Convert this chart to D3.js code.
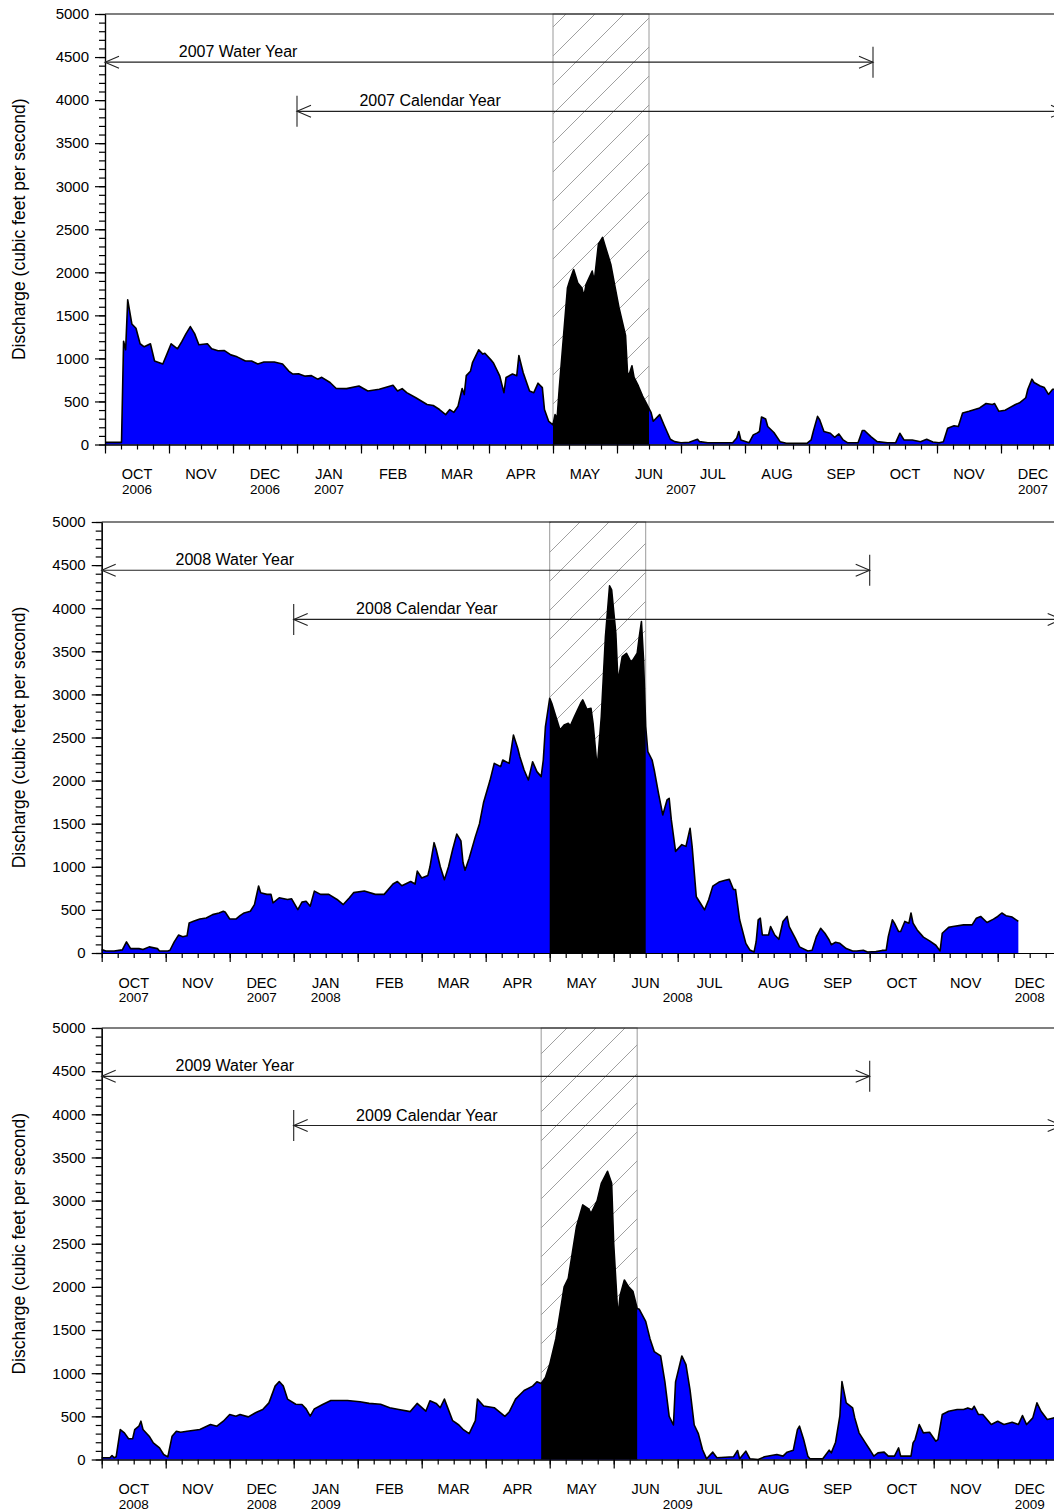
<!DOCTYPE html>
<html lang="en">
<head>
<meta charset="UTF-8">
<script src="https://d3js.org/d3.v7.min.js"></script>
<style>
    body { margin: 0; background: #fff; }
    svg { display: block; font-family: "Liberation Sans", Arial, sans-serif; }
</style>
</head>
<body>
<div id="chart"></div>
<script>
// month labels along each water-year axis (Oct .. Dec of following year)
const monthNames = ["OCT","NOV","DEC","JAN","FEB","MAR","APR","MAY","JUN","JUL","AUG","SEP","OCT","NOV","DEC"];
const yearTickMonths = [0.5, 2.5, 3.5, 9, 14.5];

// daily discharge, cubic feet per second
const flow2007 = [["2006-10-01",25],["2006-10-09",25],["2006-10-10",1200],["2006-10-11",1100],["2006-10-12",1680],["2006-10-14",1400],["2006-10-16",1350],["2006-10-18",1170],["2006-10-20",1135],["2006-10-23",1170],["2006-10-25",970],["2006-10-29",935],["2006-10-31",1050],["2006-11-02",1170],["2006-11-05",1112],["2006-11-07",1194],["2006-11-09",1288],["2006-11-11",1370],["2006-11-13",1288],["2006-11-15",1159],["2006-11-19",1170],["2006-11-21",1112],["2006-11-24",1088],["2006-11-27",1090],["2006-11-30",1041],["2006-12-03",1018],["2006-12-07",970],["2006-12-10",970],["2006-12-13",935],["2006-12-16",959],["2006-12-21",959],["2006-12-25",935],["2006-12-28",853],["2006-12-30",818],["2007-01-02",820],["2007-01-05",794],["2007-01-08",800],["2007-01-11",759],["2007-01-13",780],["2007-01-17",720],["2007-01-20",650],["2007-01-25",649],["2007-01-31",680],["2007-02-04",621],["2007-02-09",641],["2007-02-15",688],["2007-02-17",621],["2007-02-19",649],["2007-02-21",602],["2007-02-25",543],["2007-03-02",465],["2007-03-05",453],["2007-03-08",406],["2007-03-11",347],["2007-03-13",406],["2007-03-15",374],["2007-03-17",445],["2007-03-19",650],["2007-03-20",580],["2007-03-21",800],["2007-03-23",850],["2007-03-24",950],["2007-03-27",1100],["2007-03-29",1050],["2007-03-30",1060],["2007-04-02",980],["2007-04-03",950],["2007-04-05",850],["2007-04-06",798],["2007-04-08",602],["2007-04-09",779],["2007-04-12",818],["2007-04-14",798],["2007-04-15",1033],["2007-04-17",837],["2007-04-20",621],["2007-04-22",602],["2007-04-24",712],["2007-04-26",661],["2007-04-27",406],["2007-04-29",268],["2007-05-01",229],["2007-05-02",347],["2007-05-03",308],["2007-05-04",641],["2007-05-06",1229],["2007-05-08",1818],["2007-05-09",1896],["2007-05-11",2033],["2007-05-13",1876],["2007-05-15",1818],["2007-05-16",1720],["2007-05-17",1856],["2007-05-20",2014],["2007-05-21",1896],["2007-05-23",2327],["2007-05-25",2406],["2007-05-26",2327],["2007-05-29",2092],["2007-05-31",1837],["2007-06-02",1582],["2007-06-05",1268],["2007-06-06",798],["2007-06-07",837],["2007-06-08",915],["2007-06-09",779],["2007-06-11",680],["2007-06-13",562],["2007-06-15",465],["2007-06-17",370],["2007-06-18",270],["2007-06-21",347],["2007-06-23",229],["2007-06-26",61],["2007-06-28",33],["2007-07-01",21],["2007-07-05",25],["2007-07-09",61],["2007-07-10",33],["2007-07-14",20],["2007-07-26",20],["2007-07-28",76],["2007-07-29",151],["2007-07-30",53],["2007-08-03",21],["2007-08-05",112],["2007-08-07",135],["2007-08-08",151],["2007-08-09",320],["2007-08-11",296],["2007-08-12",209],["2007-08-15",139],["2007-08-18",33],["2007-08-21",14],["2007-08-31",14],["2007-09-02",53],["2007-09-03",151],["2007-09-05",327],["2007-09-06",288],["2007-09-08",151],["2007-09-11",131],["2007-09-13",84],["2007-09-15",123],["2007-09-17",53],["2007-09-19",21],["2007-09-24",21],["2007-09-26",163],["2007-09-27",163],["2007-09-30",92],["2007-10-03",33],["2007-10-08",21],["2007-10-12",21],["2007-10-14",131],["2007-10-16",53],["2007-10-20",53],["2007-10-24",33],["2007-10-27",61],["2007-10-30",29],["2007-11-02",21],["2007-11-04",33],["2007-11-06",190],["2007-11-09",218],["2007-11-11",209],["2007-11-13",367],["2007-11-16",386],["2007-11-21",425],["2007-11-24",476],["2007-11-27",465],["2007-11-28",476],["2007-11-30",386],["2007-12-03",398],["2007-12-05",425],["2007-12-08",465],["2007-12-10",484],["2007-12-13",543],["2007-12-14",641],["2007-12-16",759],["2007-12-17",720],["2007-12-20",680],["2007-12-22",661],["2007-12-24",582],["2007-12-26",641],["2007-12-31",640]];

const flow2008 = [["2007-10-01",40],["2007-10-03",24],["2007-10-07",24],["2007-10-11",36],["2007-10-13",129],["2007-10-15",51],["2007-10-19",51],["2007-10-21",40],["2007-10-24",71],["2007-10-28",51],["2007-10-29",24],["2007-11-02",24],["2007-11-03",32],["2007-11-05",129],["2007-11-07",208],["2007-11-09",188],["2007-11-11",200],["2007-11-12",348],["2007-11-14",367],["2007-11-17",394],["2007-11-20",406],["2007-11-23",445],["2007-11-26",465],["2007-11-28",484],["2007-11-29",472],["2007-12-01",394],["2007-12-04",394],["2007-12-06",433],["2007-12-08",465],["2007-12-11",484],["2007-12-13",562],["2007-12-15",777],["2007-12-16",699],["2007-12-19",680],["2007-12-21",680],["2007-12-22",582],["2007-12-25",641],["2007-12-29",621],["2007-12-31",629],["2008-01-03",504],["2008-01-05",590],["2008-01-07",601],["2008-01-09",543],["2008-01-11",718],["2008-01-14",680],["2008-01-18",680],["2008-01-22",621],["2008-01-25",562],["2008-01-28",641],["2008-01-30",700],["2008-02-04",720],["2008-02-09",680],["2008-02-13",680],["2008-02-17",800],["2008-02-19",830],["2008-02-21",780],["2008-02-25",830],["2008-02-27",800],["2008-02-28",950],["2008-03-01",870],["2008-03-04",900],["2008-03-05",1000],["2008-03-07",1280],["2008-03-08",1200],["2008-03-10",1000],["2008-03-12",850],["2008-03-14",1000],["2008-03-16",1200],["2008-03-18",1380],["2008-03-20",1300],["2008-03-21",1050],["2008-03-22",960],["2008-03-24",1100],["2008-03-27",1350],["2008-03-29",1500],["2008-03-31",1750],["2008-04-03",2000],["2008-04-05",2200],["2008-04-08",2162],["2008-04-09",2239],["2008-04-12",2200],["2008-04-14",2529],["2008-04-16",2375],["2008-04-17",2278],["2008-04-19",2123],["2008-04-21",2007],["2008-04-23",2219],["2008-04-25",2104],["2008-04-27",2046],["2008-04-28",2239],["2008-04-29",2626],["2008-05-01",2955],["2008-05-02",2897],["2008-05-04",2742],["2008-05-06",2587],["2008-05-08",2645],["2008-05-10",2665],["2008-05-11",2634],["2008-05-13",2742],["2008-05-16",2897],["2008-05-17",2936],["2008-05-19",2828],["2008-05-21",2839],["2008-05-22",2665],["2008-05-24",2143],["2008-05-26",2742],["2008-05-28",3671],["2008-05-30",4259],["2008-05-31",4212],["2008-06-02",3709],["2008-06-03",3148],["2008-06-05",3438],["2008-06-07",3477],["2008-06-09",3380],["2008-06-10",3400],["2008-06-12",3477],["2008-06-13",3671],["2008-06-14",3845],["2008-06-15",3400],["2008-06-16",2626],["2008-06-17",2336],["2008-06-19",2239],["2008-06-20",2123],["2008-06-22",1853],["2008-06-24",1602],["2008-06-26",1776],["2008-06-27",1795],["2008-06-28",1547],["2008-06-30",1179],["2008-07-03",1257],["2008-07-05",1237],["2008-07-07",1447],["2008-07-08",1234],["2008-07-10",653],["2008-07-12",577],["2008-07-14",500],["2008-07-16",618],["2008-07-18",776],["2008-07-21",823],["2008-07-24",843],["2008-07-26",854],["2008-07-28",737],["2008-07-29",737],["2008-07-31",385],["2008-08-03",112],["2008-08-05",34],["2008-08-07",12],["2008-08-08",131],["2008-08-09",385],["2008-08-10",404],["2008-08-11",209],["2008-08-14",209],["2008-08-15",307],["2008-08-17",209],["2008-08-19",159],["2008-08-21",366],["2008-08-23",424],["2008-08-24",307],["2008-08-27",170],["2008-08-29",71],["2008-09-02",24],["2008-09-04",32],["2008-09-06",190],["2008-09-08",287],["2008-09-10",229],["2008-09-12",151],["2008-09-13",96],["2008-09-15",124],["2008-09-17",112],["2008-09-20",51],["2008-09-23",24],["2008-09-25",24],["2008-09-28",32],["2008-09-30",12],["2008-10-04",16],["2008-10-07",30],["2008-10-09",32],["2008-10-10",190],["2008-10-12",385],["2008-10-13",346],["2008-10-15",249],["2008-10-16",249],["2008-10-18",366],["2008-10-20",346],["2008-10-21",464],["2008-10-22",346],["2008-10-24",268],["2008-10-27",184],["2008-10-30",141],["2008-11-02",90],["2008-11-04",24],["2008-11-05",229],["2008-11-08",297],["2008-11-10",307],["2008-11-15",326],["2008-11-19",326],["2008-11-21",404],["2008-11-23",424],["2008-11-26",354],["2008-11-29",393],["2008-12-01",424],["2008-12-03",464],["2008-12-05",433],["2008-12-08",417],["2008-12-11",366]];

const flow2009 = [["2008-10-01",20],["2008-10-05",20],["2008-10-06",46],["2008-10-07",20],["2008-10-08",31],["2008-10-10",347],["2008-10-12",309],["2008-10-14",240],["2008-10-16",240],["2008-10-17",347],["2008-10-19",386],["2008-10-20",444],["2008-10-21",347],["2008-10-24",270],["2008-10-26",193],["2008-10-29",135],["2008-10-31",58],["2008-11-02",31],["2008-11-04",270],["2008-11-06",328],["2008-11-08",316],["2008-11-11",328],["2008-11-17",347],["2008-11-22",405],["2008-11-25",386],["2008-11-28",444],["2008-12-01",521],["2008-12-04",502],["2008-12-06",521],["2008-12-10",494],["2008-12-14",548],["2008-12-17",579],["2008-12-20",656],["2008-12-21",720],["2008-12-23",850],["2008-12-25",903],["2008-12-27",850],["2008-12-29",700],["2009-01-02",640],["2009-01-05",637],["2009-01-07",587],["2009-01-09",502],["2009-01-11",587],["2009-01-15",637],["2009-01-19",683],["2009-01-27",683],["2009-02-02",670],["2009-02-06",650],["2009-02-11",640],["2009-02-15",600],["2009-02-19",580],["2009-02-24",555],["2009-02-27",650],["2009-03-03",560],["2009-03-05",680],["2009-03-08",650],["2009-03-10",600],["2009-03-12",700],["2009-03-16",450],["2009-03-19",400],["2009-03-21",350],["2009-03-24",300],["2009-03-27",450],["2009-03-28",700],["2009-03-31",620],["2009-04-05",600],["2009-04-10",500],["2009-04-12",550],["2009-04-15",700],["2009-04-19",800],["2009-04-23",850],["2009-04-25",900],["2009-04-27",880],["2009-04-29",950],["2009-05-01",1100],["2009-05-04",1400],["2009-05-06",1700],["2009-05-08",2000],["2009-05-10",2100],["2009-05-12",2400],["2009-05-14",2700],["2009-05-17",2950],["2009-05-20",2900],["2009-05-21",2850],["2009-05-24",3000],["2009-05-26",3200],["2009-05-29",3340],["2009-05-31",3200],["2009-06-01",2500],["2009-06-03",1650],["2009-06-04",1900],["2009-06-06",2080],["2009-06-08",2000],["2009-06-10",1950],["2009-06-12",1750],["2009-06-13",1740],["2009-06-16",1600],["2009-06-18",1400],["2009-06-20",1250],["2009-06-23",1200],["2009-06-25",900],["2009-06-27",500],["2009-06-29",400],["2009-06-30",900],["2009-07-03",1200],["2009-07-05",1100],["2009-07-07",800],["2009-07-09",400],["2009-07-11",300],["2009-07-13",116],["2009-07-15",8],["2009-07-18",85],["2009-07-20",20],["2009-07-28",31],["2009-07-30",104],["2009-07-31",8],["2009-08-03",96],["2009-08-05",8],["2009-08-09",0],["2009-08-12",31],["2009-08-18",58],["2009-08-21",39],["2009-08-23",85],["2009-08-26",108],["2009-08-28",347],["2009-08-29",386],["2009-08-31",231],["2009-09-02",39],["2009-09-03",8],["2009-09-09",8],["2009-09-12",108],["2009-09-13",77],["2009-09-15",200],["2009-09-17",502],["2009-09-18",903],["2009-09-20",656],["2009-09-23",598],["2009-09-24",482],["2009-09-26",309],["2009-09-29",193],["2009-10-01",116],["2009-10-03",39],["2009-10-05",77],["2009-10-08",85],["2009-10-10",39],["2009-10-13",39],["2009-10-15",135],["2009-10-16",39],["2009-10-21",39],["2009-10-22",193],["2009-10-23",231],["2009-10-25",405],["2009-10-27",309],["2009-10-30",316],["2009-11-02",212],["2009-11-03",231],["2009-11-05",521],["2009-11-08",559],["2009-11-12",579],["2009-11-15",579],["2009-11-17",598],["2009-11-19",579],["2009-11-20",617],["2009-11-22",521],["2009-11-24",521],["2009-11-28",405],["2009-12-01",444],["2009-12-04",405],["2009-12-08",432],["2009-12-11",405],["2009-12-13",509],["2009-12-15",405],["2009-12-18",482],["2009-12-20",656],["2009-12-22",559],["2009-12-25",463],["2009-12-28",482],["2009-12-31",500]];

// hatched high-flow periods
const shade2007 = ["2007-05-01", "2007-06-16"];
const shade2008 = ["2008-05-01", "2008-06-16"];
const shade2009 = ["2009-04-27", "2009-06-12"];

const years2007 = ["2006", "2006", "2007", "2007", "2007"];
const years2008 = ["2007", "2007", "2008", "2008", "2008"];
const years2009 = ["2008", "2008", "2009", "2009", "2009"];

const panels = [
    { start: 2006, flow: flow2007, shade: shade2007, years: years2007, wy: "2007 Water Year", cy: "2007 Calendar Year", left: 105, top: 14, bottom: 444.5 },
    { start: 2007, flow: flow2008, shade: shade2008, years: years2008, wy: "2008 Water Year", cy: "2008 Calendar Year", left: 101.7, top: 522, bottom: 953 },
    { start: 2008, flow: flow2009, shade: shade2009, years: years2009, wy: "2009 Water Year", cy: "2009 Calendar Year", left: 101.7, top: 1028, bottom: 1459.5 }
];

const width = 1054, height = 1511;
const monthW = 64;
const parse = d3.timeParse("%Y-%m-%d");

const svg = d3.select("#chart").append("svg")
    .attr("width", width)
    .attr("height", height);

const defs = svg.append("defs");
const hatch = defs.append("pattern")
    .attr("id", "hatch")
    .attr("patternUnits", "userSpaceOnUse")
    .attr("width", 29).attr("height", 29);
hatch.append("path")
    .attr("d", "M0,29 L29,0 M-7,7 L7,-7 M22,36 L36,22")
    .attr("stroke", "#a0a0a0")
    .attr("stroke-width", 1);

panels.forEach((p, i) => {
    // months since Oct 1 of the start year; each month gets equal width
    const monthPos = s => {
        const dt = parse(s);
        const dim = new Date(dt.getFullYear(), dt.getMonth() + 1, 0).getDate();
        return (dt.getFullYear() - p.start) * 12 + dt.getMonth() - 9 + (dt.getDate() - 1) / dim;
    };

    const x = d3.scaleLinear().domain([0, 15]).range([p.left, p.left + 15 * monthW]);
    const y = d3.scaleLinear().domain([0, 5000]).range([p.bottom, p.top]);
    const g = svg.append("g");

    // hatched window
    const s0 = x(monthPos(p.shade[0])), s1 = x(monthPos(p.shade[1]));
    g.append("rect")
        .attr("x", s0).attr("y", p.top)
        .attr("width", s1 - s0).attr("height", p.bottom - p.top)
        .attr("fill", "url(#hatch)")
        .attr("stroke", "#9a9a9a").attr("stroke-width", 1);

    defs.append("clipPath").attr("id", "clip" + i)
        .append("rect")
        .attr("x", s0).attr("y", p.top)
        .attr("width", s1 - s0).attr("height", p.bottom - p.top);

    const data = p.flow.map(([d, v]) => ({ m: monthPos(d), v }));
    const area = d3.area().x(d => x(d.m)).y0(y(0)).y1(d => y(d.v));
    const line = d3.line().x(d => x(d.m)).y(d => y(d.v));

    g.append("path").datum(data).attr("d", area).attr("fill", "#0000ff");
    g.append("path").datum(data).attr("d", area).attr("fill", "#000")
        .attr("clip-path", `url(#clip${i})`);
    g.append("path").datum(data).attr("d", line)
        .attr("fill", "none").attr("stroke", "#000")
        .attr("stroke-width", 1.6).attr("stroke-linejoin", "round");

    // top frame line
    g.append("line")
        .attr("x1", p.left).attr("x2", x(15))
        .attr("y1", y(5000)).attr("y2", y(5000))
        .attr("stroke", "#000").attr("stroke-width", 1.2);

    // y axis
    const yMinor = d3.axisLeft(y).tickValues(d3.range(0, 5001, 100)).tickSize(6).tickFormat("").tickSizeOuter(0);
    const yMajor = d3.axisLeft(y).tickValues(d3.range(0, 5001, 500)).tickSize(10).tickPadding(6)
        .tickFormat(d3.format("d")).tickSizeOuter(0);
    [yMinor, yMajor].forEach(ax => {
        const a = g.append("g").attr("transform", `translate(${p.left},0)`).call(ax);
        a.selectAll("path, line").attr("stroke", "#000").attr("stroke-width", 1.2);
        a.selectAll("text").attr("font-size", 15).attr("fill", "#000")
            .attr("font-family", "Liberation Sans, Arial, sans-serif");
    });

    // x axis
    const xMinor = d3.axisBottom(x).tickValues(d3.range(0, 15.01, 0.25)).tickSize(5).tickFormat("").tickSizeOuter(0);
    const xMajor = d3.axisBottom(x).tickValues(d3.range(0, 16)).tickSize(9).tickFormat("").tickSizeOuter(0);
    [xMinor, xMajor].forEach(ax => {
        g.append("g").attr("transform", `translate(0,${p.bottom})`).call(ax)
            .selectAll("path, line").attr("stroke", "#000").attr("stroke-width", 1.2);
    });

    g.selectAll(".month").data(monthNames).enter().append("text")
        .attr("x", (d, k) => x(k + 0.5))
        .attr("y", p.bottom + 34.5)
        .attr("text-anchor", "middle")
        .attr("font-size", 14.5)
        .text(d => d);

    g.selectAll(".year").data(p.years).enter().append("text")
        .attr("x", (d, k) => x(yearTickMonths[k]))
        .attr("y", p.bottom + 49)
        .attr("text-anchor", "middle")
        .attr("font-size", 13.5)
        .text(d => d);

    // y title
    g.append("text")
        .attr("transform", `translate(25,${(p.top + p.bottom) / 2}) rotate(-90)`)
        .attr("text-anchor", "middle")
        .attr("font-size", 17.5)
        .text("Discharge (cubic feet per second)");

    // water-year / calendar-year spans
    const span = (m0, m1, val, label, labelAt, barStart, barEnd) => {
        const yy = y(val), xa = x(m0), xb = x(m1);
        g.append("line").attr("x1", xa).attr("x2", xb).attr("y1", yy).attr("y2", yy)
            .attr("stroke", "#222").attr("stroke-width", 1.2);
        g.append("path")
            .attr("d", `M${xa + 14},${yy - 6}L${xa},${yy}L${xa + 14},${yy + 6}M${xb - 14},${yy - 6}L${xb},${yy}L${xb - 14},${yy + 6}`)
            .attr("fill", "none").attr("stroke", "#222").attr("stroke-width", 1.1);
        if (barStart) g.append("line").attr("x1", xa).attr("x2", xa).attr("y1", yy - 15.5).attr("y2", yy + 15.5)
            .attr("stroke", "#222").attr("stroke-width", 1.1);
        if (barEnd) g.append("line").attr("x1", xb).attr("x2", xb).attr("y1", yy - 15.5).attr("y2", yy + 15.5)
            .attr("stroke", "#222").attr("stroke-width", 1.1);
        g.append("text").attr("x", x(labelAt)).attr("y", yy - 5)
            .attr("text-anchor", "middle").attr("font-size", 16)
            .text(label);
    };
    span(0, 12, 4440, p.wy, 2.08, false, true);
    span(3, 15, 3870, p.cy, 5.08, true, false);
});
</script>
</body>
</html>
